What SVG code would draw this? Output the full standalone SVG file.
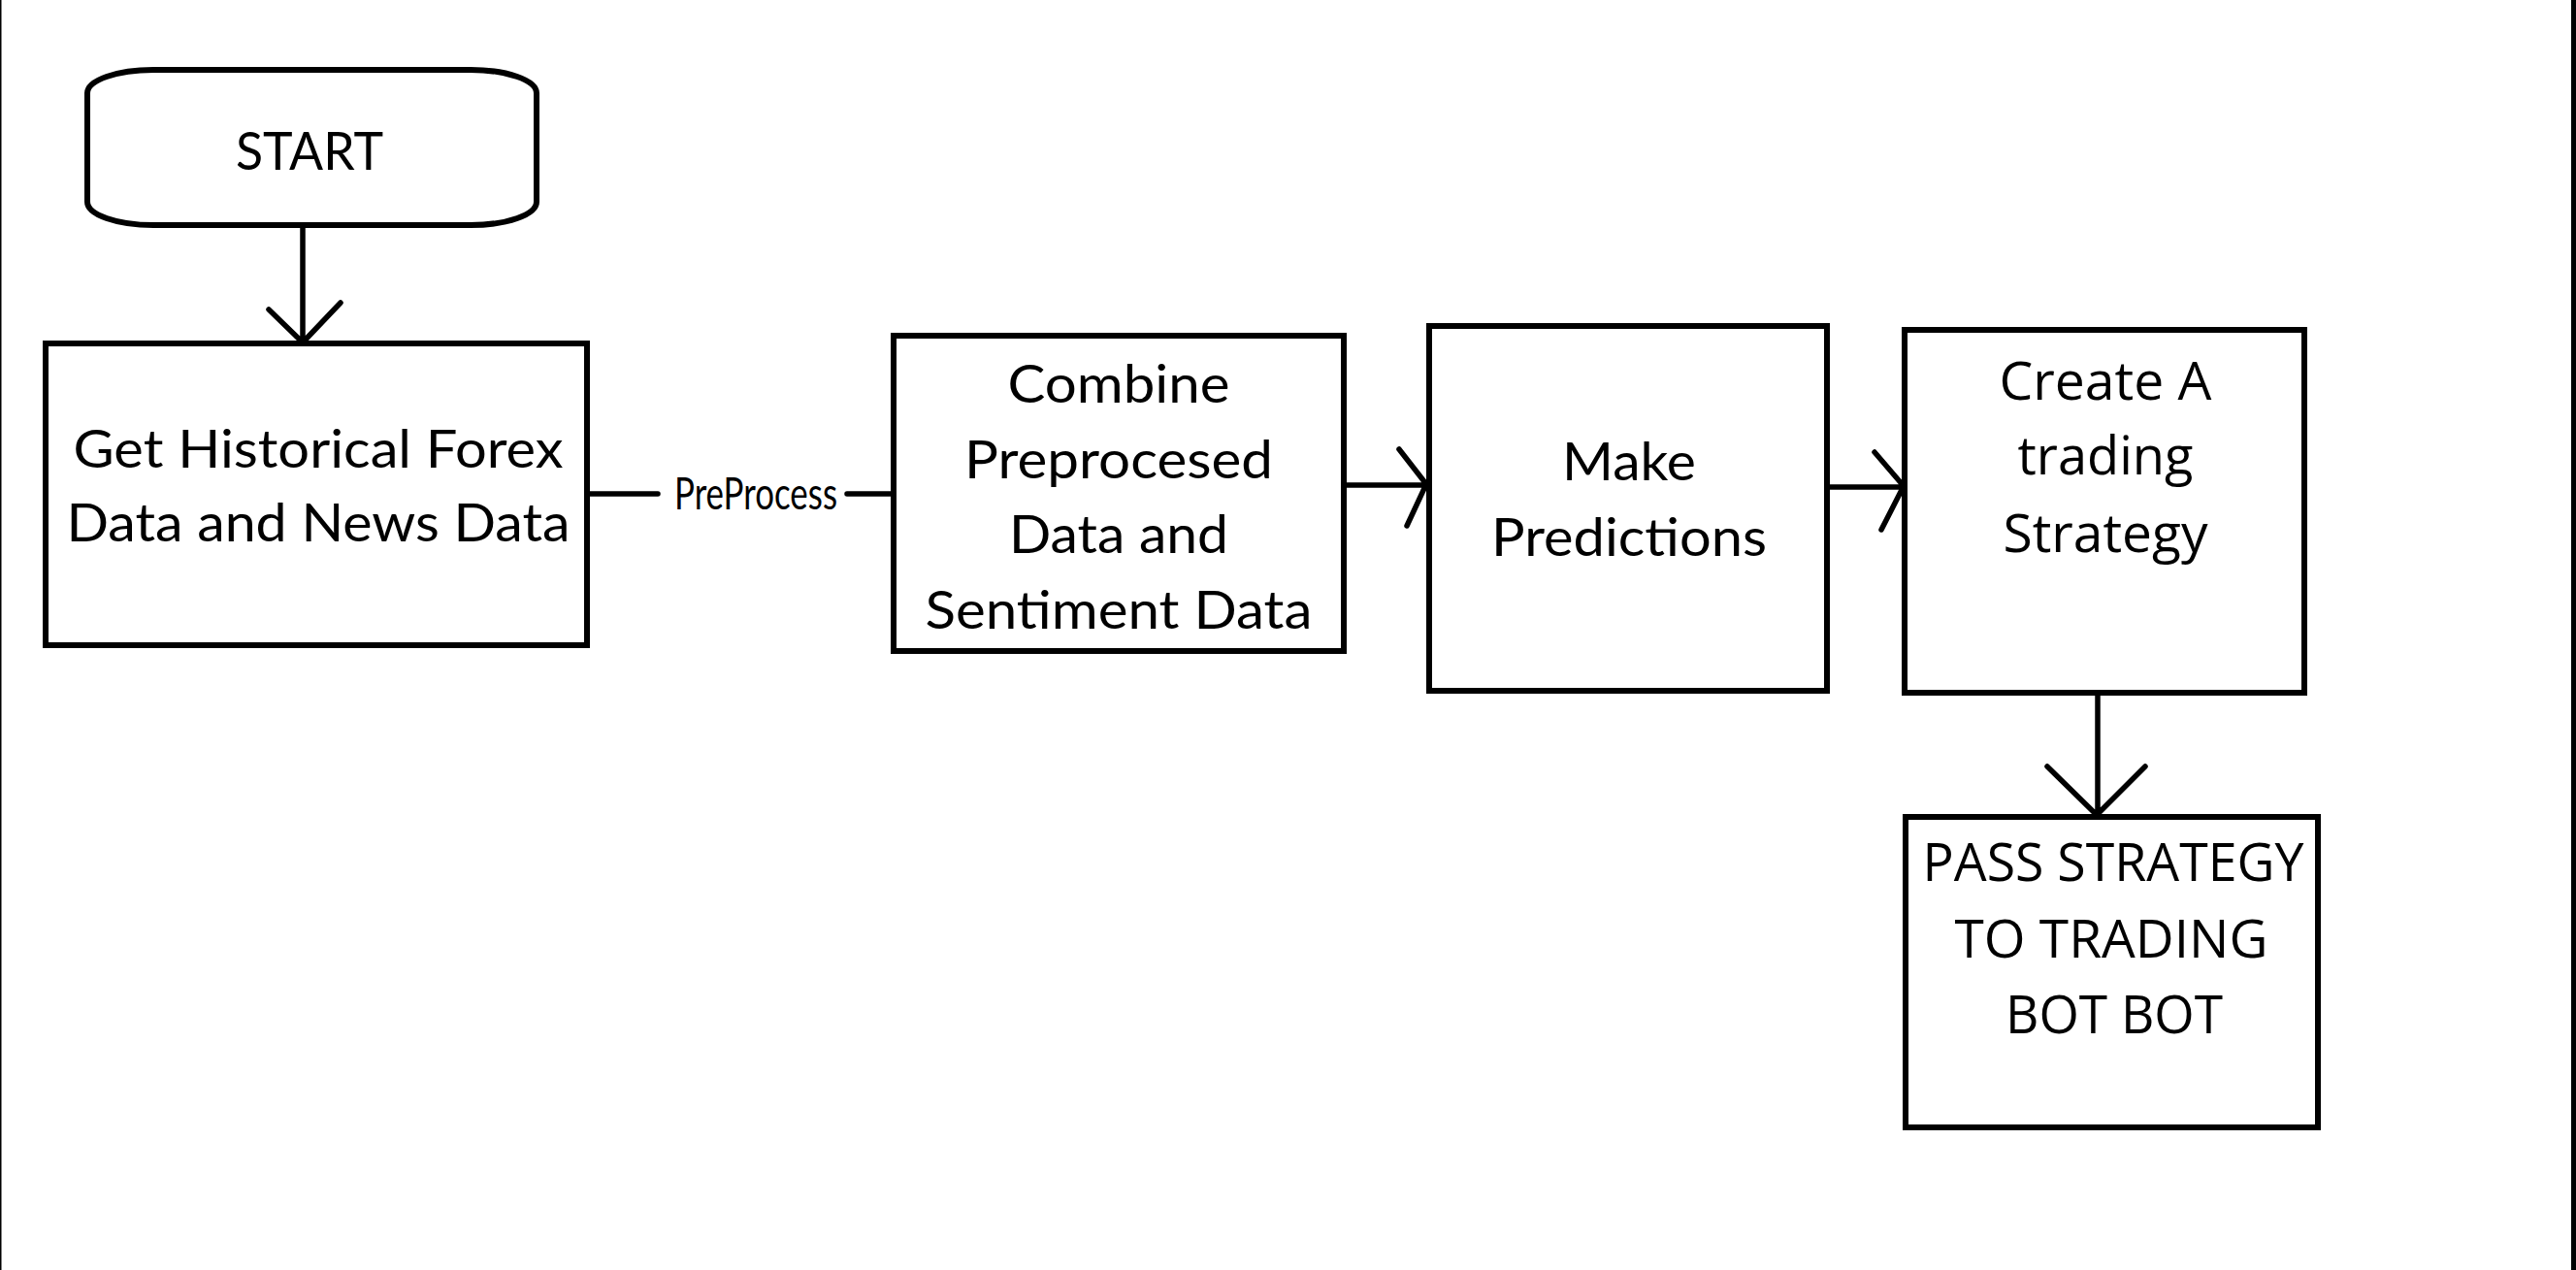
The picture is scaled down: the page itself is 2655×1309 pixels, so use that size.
<svg xmlns="http://www.w3.org/2000/svg" width="2655" height="1309" viewBox="0 0 2655 1309">
<style>
.box{fill:#fff;stroke:#000;stroke-width:6}
.ln{fill:none;stroke:#000;stroke-width:5.5;stroke-linecap:round;stroke-linejoin:round}
.c{font-family:Lato,"Open Sans","Liberation Sans",sans-serif;font-size:55px;fill:#000;text-anchor:middle}
.s{font-family:"Open Sans","Noto Sans","Liberation Sans",sans-serif;font-size:54px;fill:#000;text-anchor:middle}
.lab{font-family:Lato,"Liberation Sans",sans-serif;font-size:46px;fill:#000;text-anchor:middle}
</style>
<rect x="0" y="0" width="2655" height="1309" fill="#fff"/>
<rect x="0" y="0" width="1.5" height="1309" fill="#000"/>
<rect x="2650" y="0" width="5" height="1309" fill="#000"/>
<g id="connectors">
<path class="ln" d="M312,232 L312,353 M277,319 L312,353 L351,312"/>
<path class="ln" d="M605,509 L678,509 M873,509 L921,509"/>
<text class="lab" x="779" y="525" textLength="168" lengthAdjust="spacingAndGlyphs">PreProcess</text>
<path class="ln" d="M1385,500 L1470,500 M1442,463 L1470,499 L1450,542"/>
<path class="ln" d="M1883,502 L1962,502 M1932,466 L1962,501 L1939,546"/>
<path class="ln" d="M2162,714 L2162,840 M2110,790 L2161,840 L2211,790"/>
</g>
<g id="start">
<rect class="box" x="90" y="72" width="463" height="160" rx="68" ry="24"/>
<text class="c" x="319" y="175" textLength="152" lengthAdjust="spacingAndGlyphs">START</text>
</g>
<g id="get-data">
<rect class="box" x="47" y="354" width="558" height="311"/>
<text class="c" x="328" y="482" textLength="505" lengthAdjust="spacingAndGlyphs">Get Historical Forex</text>
<text class="c" x="328" y="558" textLength="519" lengthAdjust="spacingAndGlyphs">Data and News Data</text>
</g>
<g id="combine">
<rect class="box" x="921" y="346" width="464" height="325"/>
<text class="c" x="1153" y="415" textLength="229" lengthAdjust="spacingAndGlyphs">Combine</text>
<text class="c" x="1153" y="493" textLength="318" lengthAdjust="spacingAndGlyphs">Preprocesed</text>
<text class="c" x="1153" y="570" textLength="226" lengthAdjust="spacingAndGlyphs">Data and</text>
<text class="c" x="1153" y="648" textLength="399" lengthAdjust="spacingAndGlyphs">Sentiment Data</text>
</g>
<g id="predict">
<rect class="box" x="1473" y="336" width="410" height="376"/>
<text class="c" x="1679" y="495" textLength="138" lengthAdjust="spacingAndGlyphs">Make</text>
<text class="c" x="1679" y="573" textLength="284" lengthAdjust="spacingAndGlyphs">Predictions</text>
</g>
<g id="strategy">
<rect class="box" x="1963" y="340" width="412" height="374"/>
<text class="s" x="2170" y="412" textLength="219" lengthAdjust="spacingAndGlyphs">Create A</text>
<text class="s" x="2170" y="489" textLength="181" lengthAdjust="spacingAndGlyphs">trading</text>
<text class="s" x="2170" y="569" textLength="211" lengthAdjust="spacingAndGlyphs">Strategy</text>
</g>
<g id="pass">
<rect class="box" x="1964" y="842" width="425" height="320"/>
<text class="s" x="2178" y="908" textLength="393" lengthAdjust="spacingAndGlyphs">PASS STRATEGY</text>
<text class="s" x="2176" y="987" textLength="323" lengthAdjust="spacingAndGlyphs">TO TRADING</text>
<text class="s" x="2179" y="1065" textLength="224" lengthAdjust="spacingAndGlyphs">BOT BOT</text>
</g>
</svg>
